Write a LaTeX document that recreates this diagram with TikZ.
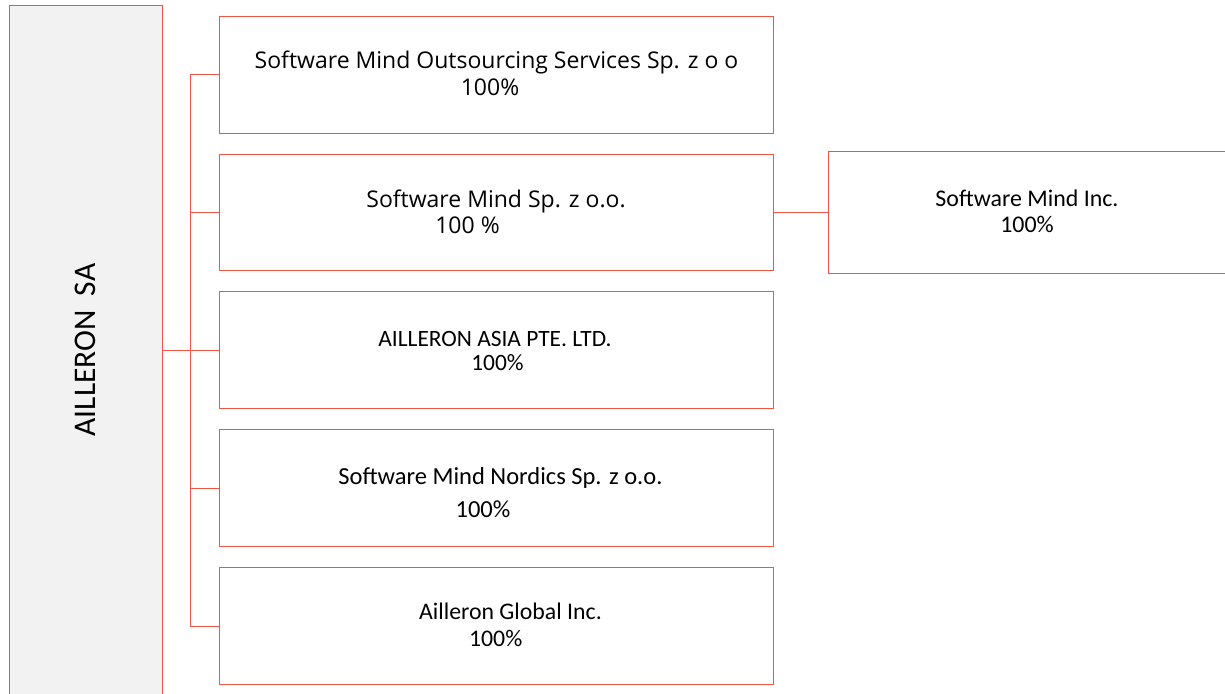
\documentclass[tikz,border=0pt]{standalone}
\usepackage{fontspec}
\setmainfont{Carlito}
\newfontfamily\segoe{Open Sans}
\definecolor{boxred}{RGB}{242,84,66}
\definecolor{boxgray}{RGB}{242,242,242}
\begin{document}
\begin{tikzpicture}[x=1pt,y=-1pt,
  orgbox/.style={draw=boxred, line width=1pt, fill=white, rectangle, inner sep=0pt, anchor=north west},
  link/.style={draw=boxred, line width=1pt},
  segtxt/.style={inner sep=0pt, anchor=base, font=\segoe\fontsize{23pt}{25.6pt}\selectfont},
  caltxt/.style={inner sep=0pt, anchor=base, font=\fontsize{23.9pt}{26pt}\selectfont}]
\useasboundingbox (0,0) rectangle (1225,693);
% main box
\node[orgbox, fill=boxgray, minimum width=153.5pt, minimum height=700pt] (main) at (8.5,5.5) {};
\node[inner sep=0pt, rotate=90, font=\fontsize{31.5pt}{33pt}\selectfont] (mainlbl) at (85,350) {AILLERON\ \ SA};
% child boxes
\node[orgbox, minimum width=553.7pt, minimum height=117pt] (b1) at (219.3,15.7) {};
\node[orgbox, minimum width=553.7pt, minimum height=116.3pt] (b2) at (219.3,153.7) {};
\node[orgbox, minimum width=553.7pt, minimum height=117pt] (b3) at (219.3,291) {};
\node[orgbox, minimum width=553.7pt, minimum height=116.7pt] (b4) at (219.3,429.3) {};
\node[orgbox, minimum width=553.7pt, minimum height=117pt] (b5) at (219.3,567) {};
\node[orgbox, minimum width=420pt, minimum height=122.3pt] (inc) at (827.7,151) {};
% connectors
\coordinate (j) at (190.5,350);
\draw[link] (main.east |- j) -- (j);
\draw[link] (b1.west) -| (j);
\draw[link] (b5.west) -| (j);
\draw[link] (b2.west) -- (b2.west -| j);
\draw[link] (b3.west) -- (b3.west -| j);
\draw[link] (b4.west) -- (b4.west -| j);
\draw[link] (b2.east) -- (b2.east -| inc.west);
% texts
\node[segtxt] (t1a) at (496.5,69) {Software Mind Outsourcing Services Sp. z o o};
\node[segtxt] (t1b) at (490,95) {100\%};
\node[segtxt] (t2a) at (496,207.7) {Software Mind Sp. z o.o.};
\node[segtxt] (t2b) at (467.5,233.3) {100 \%};
\node[caltxt, font=\fontsize{23.4pt}{25pt}\selectfont] (t3a) at (495,346.7) {AILLERON ASIA PTE. LTD.};
\node[caltxt, font=\fontsize{23.4pt}{25pt}\selectfont] (t3b) at (497.5,370) {100\%};
\node[caltxt, font=\fontsize{24.5pt}{26pt}\selectfont] (t4a) at (500.5,484.3) {Software Mind Nordics Sp. z o.o.};
\node[caltxt, font=\fontsize{24.5pt}{26pt}\selectfont] (t4b) at (483,517.7) {100\%};
\node[caltxt, font=\fontsize{23.8pt}{26pt}\selectfont] (t5a) at (510.5,619.3) {Ailleron Global Inc.};
\node[caltxt, font=\fontsize{23.8pt}{26pt}\selectfont] (t5b) at (495.7,646.7) {100\%};
\node[caltxt] (t6a) at (1027,206.7) {Software Mind Inc.};
\node[caltxt] (t6b) at (1027,232.3) {100\%};
\end{tikzpicture}
\end{document}
